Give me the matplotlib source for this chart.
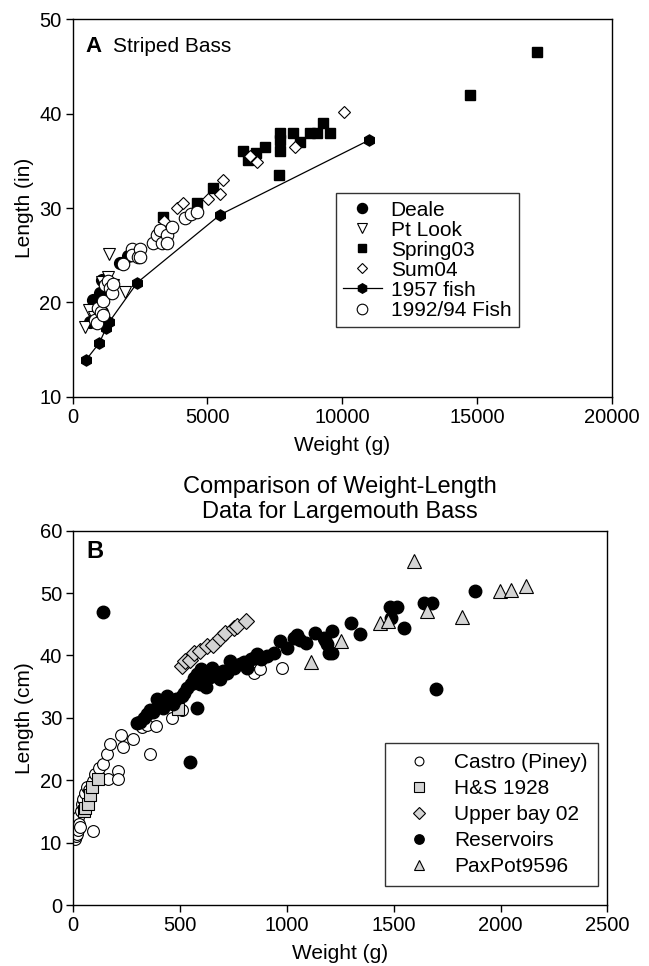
import matplotlib
matplotlib.use("Agg")
import matplotlib.pyplot as plt

plt.rcParams['font.family'] = ['Liberation Sans', 'DejaVu Sans']

# ---- panel A : striped bass (weight g, length in) ----
deale_w = [642, 766, 1013, 1075, 1137, 1075, 1750, 2064]
deale_l = [17.95, 20.3, 21.0, 22.4, 18.1, 19.0, 24.2, 24.9]

ptlook_w = [456, 617, 800, 1100, 1323, 1360, 1500, 1940]
ptlook_l = [17.4, 19.2, 18.5, 22.2, 22.7, 25.1, 21.8, 21.1]

spring_w = [1300, 3363, 4624, 5218, 6331, 6517, 6800, 7136, 7667, 7692, 7692, 7692,
            8163, 8434, 8805, 9050, 9300, 9548, 14742, 17217]
spring_l = [22.0, 29.1, 30.5, 32.1, 36.0, 35.1, 35.8, 36.5, 33.5, 37.9, 37.2, 36.0,
            37.9, 37.0, 37.9, 37.9, 39.0, 37.9, 42.0, 46.5]

sum_w = [1818, 3388, 3859, 4105, 5033, 5466, 5590, 6579, 6827, 8249, 10067]
sum_l = [24.1, 28.6, 30.0, 30.5, 31.0, 31.5, 33.0, 35.5, 34.9, 36.5, 40.2]

fish57_w = [494, 988, 1236, 1360, 2398, 5478, 11000]
fish57_l = [13.9, 15.7, 17.25, 17.95, 22.1, 29.3, 37.2]

fish92_w = [827, 900, 951, 1050, 1137, 1137, 1200, 1300, 1384, 1450, 1508, 1878,
            2189, 2189, 2435, 2497, 2497, 2991, 3117, 3239, 3302, 3488, 3488, 3673,
            4167, 4400, 4601]
fish92_l = [18.1, 17.8, 19.4, 19.0, 20.1, 18.7, 21.8, 22.3, 21.5, 21.0, 22.0, 24.1,
            25.7, 25.0, 24.85, 25.7, 24.85, 26.3, 27.1, 27.7, 26.3, 27.1, 26.3, 28.0,
            28.9, 29.4, 29.6]

# ---- panel B : largemouth bass (weight g, length cm) ----
castro_w = [8, 12, 16, 20, 23, 28, 31, 35, 39, 45, 55, 63, 75, 91, 94, 100, 120,
            141, 156, 164, 172, 211, 211, 222, 234, 281, 321, 344, 360, 388, 461,
            508, 844, 875, 977]
castro_l = [10.6, 11.0, 11.4, 12.0, 14.1, 13.0, 12.5, 15.0, 16.2, 17.0, 18.0, 18.9,
            18.5, 11.9, 19.9, 21.0, 22.0, 22.6, 24.2, 20.2, 25.8, 21.5, 20.2, 27.3,
            25.4, 26.6, 28.5, 28.8, 24.2, 28.7, 30.0, 31.2, 37.2, 37.8, 38.0]

hs_w = [50, 55, 70, 78, 86, 117, 492]
hs_l = [15.0, 15.5, 16.2, 17.6, 18.9, 20.2, 31.4]

upper_w = [508, 524, 547, 563, 594, 625, 656, 688, 711, 750, 766, 810]
upper_l = [38.3, 39.1, 39.3, 40.4, 40.7, 41.5, 41.7, 42.8, 43.6, 44.4, 44.7, 45.5]

res_w = [138, 297, 312, 330, 344, 360, 375, 391, 405, 422, 438, 450, 469, 480, 508,
         520, 532, 544, 550, 563, 578, 580, 594, 600, 610, 620, 625, 640, 650, 656,
         670, 688, 700, 719, 735, 750, 781, 800, 813, 830, 844, 860, 880, 907, 938,
         969, 1000, 1031, 1047, 1063, 1091, 1133, 1172, 1180, 1188, 1196, 1211, 1211,
         1300, 1341, 1481, 1485, 1516, 1547, 1641, 1680, 1696, 1879]
res_l = [47.0, 29.25, 29.3, 30.0, 30.6, 31.2, 31.0, 33.0, 32.0, 31.6, 33.5, 32.5, 32.2,
         33.0, 33.5, 34.0, 34.8, 23.0, 35.5, 36.4, 31.6, 37.0, 35.4, 37.8, 36.0, 35.0,
         37.2, 36.5, 38.0, 37.5, 37.0, 36.2, 37.5, 37.2, 39.1, 38.0, 38.6, 39.0, 38.0,
         39.5, 39.6, 40.2, 39.5, 39.9, 40.4, 42.3, 41.2, 42.8, 43.3, 42.5, 42.0, 43.6,
         42.8, 42.5, 41.8, 40.4, 43.9, 40.4, 45.2, 43.5, 47.8, 46.0, 47.8, 44.4, 48.4,
         48.4, 34.7, 50.4]

pax_w = [1114, 1254, 1435, 1472, 1594, 1654, 1818, 1997, 2047, 2118]
pax_l = [39.0, 42.3, 45.2, 45.5, 55.2, 47.2, 46.1, 50.3, 50.5, 51.1]

gray = '#d4d4d4'
fs = 15

fig = plt.figure(figsize=(6.49, 9.66), dpi=100)
axA = fig.add_axes([0.1120, 0.5893, 0.8305, 0.3907])
axB = fig.add_axes([0.1129, 0.0631, 0.8231, 0.3875])

# panel A
axA.plot(deale_w, deale_l, 'o', ms=8.5, mfc='k', mec='k', ls='none', label='Deale')
axA.plot(ptlook_w, ptlook_l, 'v', ms=8, mfc='w', mec='k', mew=0.8, ls='none', label='Pt Look')
axA.plot(spring_w, spring_l, 's', ms=7, mfc='k', mec='k', ls='none', label='Spring03')
axA.plot(sum_w, sum_l, 'D', ms=6.5, mfc='w', mec='k', mew=0.8, ls='none', label='Sum04')
axA.plot(fish57_w, fish57_l, 'h-', ms=8, color='k', lw=0.9, label='1957 fish')
axA.plot(fish92_w, fish92_l, 'o', ms=9, mfc='w', mec='k', mew=0.8, ls='none', label='1992/94 Fish')

axA.set_xlim(0, 20000)
axA.set_ylim(10, 50)
axA.set_xticks([0, 5000, 10000, 15000, 20000])
axA.set_yticks([10, 20, 30, 40, 50])
axA.set_xlabel('Weight (g)', fontsize=fs)
axA.set_ylabel('Length (in)', fontsize=fs)
axA.xaxis.set_label_coords(0.5, -0.104)
axA.yaxis.set_label_coords(-0.072, 0.5)
axA.text(0.0228, 0.9274, 'A', transform=axA.transAxes, fontsize=16, fontweight='bold',
         ha='left', va='center')
axA.text(0.0742, 0.9274, 'Striped Bass', transform=axA.transAxes, fontsize=fs,
         ha='left', va='center')
legA = axA.legend(loc='upper left', bbox_to_anchor=(0.488, 0.539), borderaxespad=0,
                  fontsize=fs, frameon=True, fancybox=False, edgecolor='k',
                  markerscale=0.85, labelspacing=0.05, handlelength=1.86,
                  handletextpad=0.43, borderpad=0.35)
legA.get_frame().set_linewidth(1.0)

# panel B
axB.plot(castro_w, castro_l, 'o', ms=8.5, mfc='w', mec='k', mew=0.8, ls='none', label='Castro (Piney)')
axB.plot(hs_w, hs_l, 's', ms=9, mfc=gray, mec='k', mew=0.8, ls='none', label='H&S 1928')
axB.plot(upper_w, upper_l, 'D', ms=8, mfc=gray, mec='k', mew=0.8, ls='none', label='Upper bay 02')
axB.plot(res_w, res_l, 'o', ms=9, mfc='k', mec='k', ls='none', label='Reservoirs')
axB.plot(pax_w, pax_l, '^', ms=10, mfc=gray, mec='k', mew=0.8, ls='none', label='PaxPot9596')

axB.set_xlim(0, 2500)
axB.set_ylim(0, 60)
axB.set_xticks([0, 500, 1000, 1500, 2000, 2500])
axB.set_yticks([0, 10, 20, 30, 40, 50, 60])
axB.set_xlabel('Weight (g)', fontsize=fs)
axB.set_ylabel('Length (cm)', fontsize=fs)
axB.xaxis.set_label_coords(0.5, -0.104)
axB.yaxis.set_label_coords(-0.0736, 0.5)
axB.text(0.0238, 0.944, 'B', transform=axB.transAxes, fontsize=17, fontweight='bold',
         ha='left', va='center')
legB = axB.legend(loc='upper left', bbox_to_anchor=(0.583, 0.433), borderaxespad=0,
                  fontsize=fs, frameon=True, fancybox=False, edgecolor='k',
                  markerscale=0.75, labelspacing=0.33, handlelength=2.27,
                  handletextpad=0.58, borderpad=0.5)
legB.get_frame().set_linewidth(1.0)

fig.text(0.1129 + 0.8231 / 2, 1 - 499.2 / 966, 'Comparison of Weight-Length\nData for Largemouth Bass',
         fontsize=17, ha='center', va='center', linespacing=1.2)

for ax in (axA, axB):
    ax.tick_params(direction='out', length=5, width=1, labelsize=14.5, pad=3,
                   top=False, right=False)
    for sp in ax.spines.values():
        sp.set_linewidth(1.0)
        sp.set_color('k')

fig.savefig('out.png', dpi=100)
